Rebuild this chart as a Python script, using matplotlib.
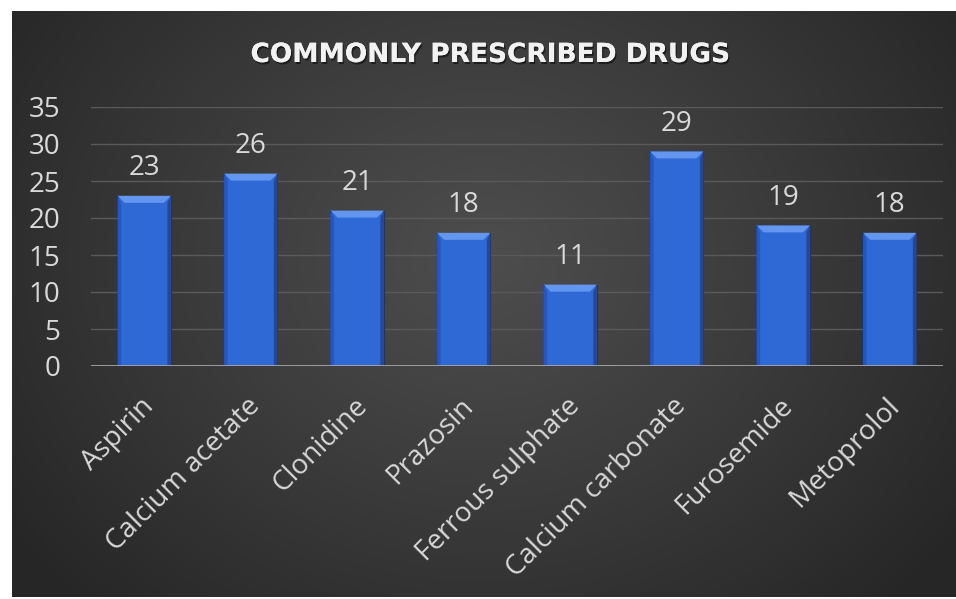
import numpy as np
import matplotlib
matplotlib.use("Agg")
import matplotlib.pyplot as plt
from matplotlib.patches import Polygon
import matplotlib.patheffects as pe
import matplotlib.transforms as mtrans

categories = ["Aspirin", "Calcium acetate", "Clonidine", "Prazosin",
              "Ferrous sulphate", "Calcium carbonate", "Furosemide", "Metoprolol"]
values = [23, 26, 21, 18, 11, 29, 19, 18]
yticks = [0, 5, 10, 15, 20, 25, 30, 35]
title = "COMMONLY PRESCRIBED DRUGS"

W, H = 956, 599
fig = plt.figure(figsize=(W / 100, H / 100), dpi=100)
fig.patch.set_facecolor("white")

# background panel with radial gradient
bg = fig.add_axes([12 / W, 2 / H, (W - 12) / W, (597 - 11) / H])
bg.set_axis_off()
ny, nx = 300, 480
yy, xx = np.mgrid[0:ny, 0:nx]
cx, cy = nx * 0.5, ny * 0.42
r = np.sqrt(((xx - cx) / nx) ** 2 + ((yy - cy) / ny * 0.75) ** 2)
r = np.clip(r / 0.62, 0, 1)
c_in, c_out = 0x4d / 255, 0x26 / 255
img = c_in + (c_out - c_in) * r ** 1.1
bg.imshow(np.dstack([img, img, img]), aspect="auto", extent=[0, 1, 0, 1], origin="upper")
bg.set_xlim(0, 1); bg.set_ylim(0, 1)

ax = fig.add_axes([91 / W, (H - 366) / H, (943 - 91) / W, (366 - 107) / H])
ax.patch.set_alpha(0)
ax.set_xlim(-0.5, len(categories) - 0.5)
ax.set_ylim(0, 35)
for s in ax.spines.values():
    s.set_visible(False)

font = "Open Sans"
txtc = "#d9d9d9"
fs = 20
for t in yticks[1:]:
    ax.axhline(t, color="#5a5a5a", lw=1.0, zorder=0)
ax.axhline(0, color="#a6a6a6", lw=2.0, zorder=3)

x = np.arange(len(categories))
bw = 0.5
bars = ax.bar(x, values, width=bw, color="#2e69d6", edgecolor="#1c3570", lw=0.8, zorder=2)

# bevel effect
fig.canvas.draw()
inv = ax.transData.inverted()
bev = 7  # pixels
for xi, v in zip(x, values):
    x0, x1 = xi - bw / 2, xi + bw / 2
    p00 = ax.transData.transform((x0, 0)); p11 = ax.transData.transform((x1, v))
    L, B = p00; R, T = p11
    def d(px, py):
        return inv.transform((px, py))
    top = Polygon([d(L, T), d(R, T), d(R - bev, T - bev), d(L + bev, T - bev)],
                  closed=True, facecolor="#6396ef", edgecolor="none", zorder=2.5)
    left = Polygon([d(L, T), d(L + bev * 0.5, T - bev), d(L + bev * 0.5, B), d(L, B)],
                   closed=True, facecolor="#2757bd", edgecolor="none", zorder=2.5)
    right = Polygon([d(R, T), d(R - bev * 0.5, T - bev), d(R - bev * 0.5, B), d(R, B)],
                    closed=True, facecolor="#22489e", edgecolor="none", zorder=2.5)
    for p in (top, left, right):
        ax.add_patch(p)
    ax.annotate(str(v), (xi, v), xytext=(0, 10), textcoords="offset points",
                ha="center", va="bottom", color=txtc, fontsize=fs, family=font)

ax.set_yticks(yticks)
ax.set_yticklabels([str(t) for t in yticks], color=txtc, fontsize=fs, family=font)
ax.tick_params(axis="y", length=0, pad=22)
ax.set_xticks(x)
ax.set_xticklabels(categories, rotation=45, ha="right", va="center",
                   rotation_mode="anchor", color=txtc, fontsize=fs, family=font)
ax.tick_params(axis="x", length=0, pad=26)
shift = mtrans.ScaledTranslation(4 / 72, 0, fig.dpi_scale_trans)
for lab in ax.get_xticklabels():
    lab.set_transform(lab.get_transform() + shift)

fig.text(490 / W, 1 - 55 / H, title, ha="center", va="center", color="#f2f2f2",
         fontsize=19, fontweight="bold", family="DejaVu Sans",
         path_effects=[pe.withSimplePatchShadow(offset=(1, -1.5), shadow_rgbFace="black", alpha=0.5),
                       pe.Normal()])

fig.savefig("out.png", dpi=100)
